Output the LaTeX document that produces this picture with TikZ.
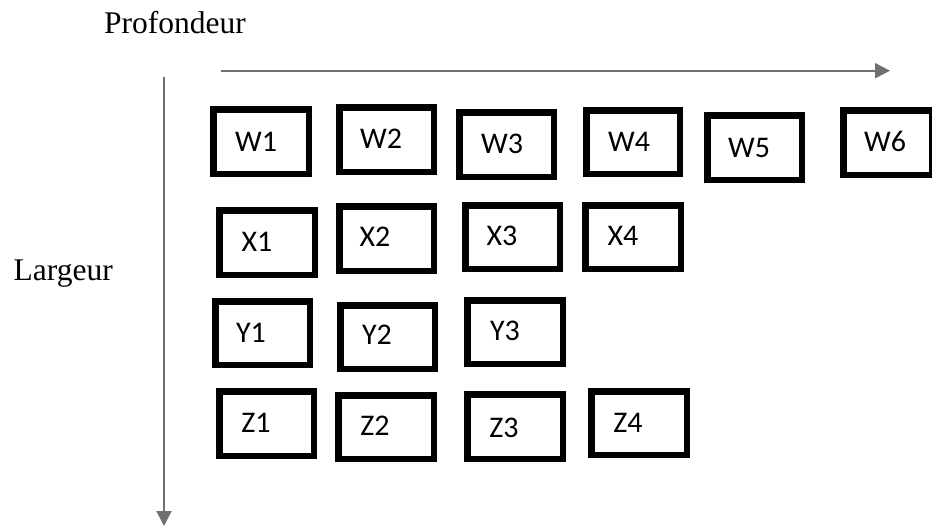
\documentclass[tikz,border=0pt]{standalone}
\usepackage{fontspec}
\setmainfont{Liberation Serif}
\newfontfamily\boxfont{Carlito}
\usetikzlibrary{arrows.meta}
\definecolor{axisgray}{RGB}{112,112,112}
\tikzset{
  box/.style={draw=black, line width=6.5pt, inner sep=0pt, fill=white},
  lab/.style={inner sep=0pt, anchor=base, font=\boxfont\fontsize{30}{35}\selectfont},
  axislab/.style={inner sep=0pt, font=\fontsize{31.5}{37}\selectfont},
  axis/.style={draw=axisgray, line width=2pt, -{Triangle[length=15pt,width=15pt]}},
}
\newcommand\mkcell[8]{%
  \node[box, minimum width={(#4-#2-6.5)*1pt}, minimum height={(#5-#3-6.5)*1pt}] (#1) at ({(#2+#4)/2},{(#3+#5)/2}) {};
  \node[lab] (#1t) at (#6,#7) {#8};
}
\begin{document}
\begin{tikzpicture}[x=1pt, y=-1pt]
\useasboundingbox (0,0) rectangle (932,527);
% axes
\coordinate (hs) at (221,70.7);
\coordinate (he) at (890,70.7);
\coordinate (vs) at (164,77);
\coordinate (ve) at (164,526);
\draw[axis] (hs) -- (he);
\draw[axis] (vs) -- (ve);
\node[axislab, anchor=base west] (prof) at (104,34) {Profondeur};
\node[axislab, anchor=base east] (larg) at (113,280) {Largeur};
% row W
\mkcell{W1}{210}{106}{312}{177}{256}{151}{W1}
\mkcell{W2}{336}{104}{437}{175}{381}{148}{W2}
\mkcell{W3}{456}{109}{557}{180}{502}{153}{W3}
\mkcell{W4}{583}{107}{683}{177}{629}{151}{W4}
\mkcell{W5}{704}{112}{805}{183}{749}{157}{W5}
\mkcell{W6}{840}{107}{935}{178}{885}{151}{W6}
% row X
\mkcell{X1}{216}{207}{318}{278}{257}{251}{X1}
\mkcell{X2}{336}{203}{437}{274}{375}{246}{X2}
\mkcell{X3}{462}{202}{563}{272}{502}{245}{X3}
\mkcell{X4}{582}{202}{684}{272}{623}{245}{X4}
% row Y
\mkcell{Y1}{212}{298}{313}{368}{251}{342}{Y1}
\mkcell{Y2}{337}{302}{438}{372}{377}{344}{Y2}
\mkcell{Y3}{464}{297}{566}{367}{505}{340}{Y3}
% row Z
\mkcell{Z1}{216}{388}{317}{459}{256}{432}{Z1}
\mkcell{Z2}{335}{392}{437}{462}{375}{435}{Z2}
\mkcell{Z3}{464}{391}{566}{462}{504}{437}{Z3}
\mkcell{Z4}{588}{388}{690}{458}{628}{432}{Z4}
\end{tikzpicture}
\end{document}
